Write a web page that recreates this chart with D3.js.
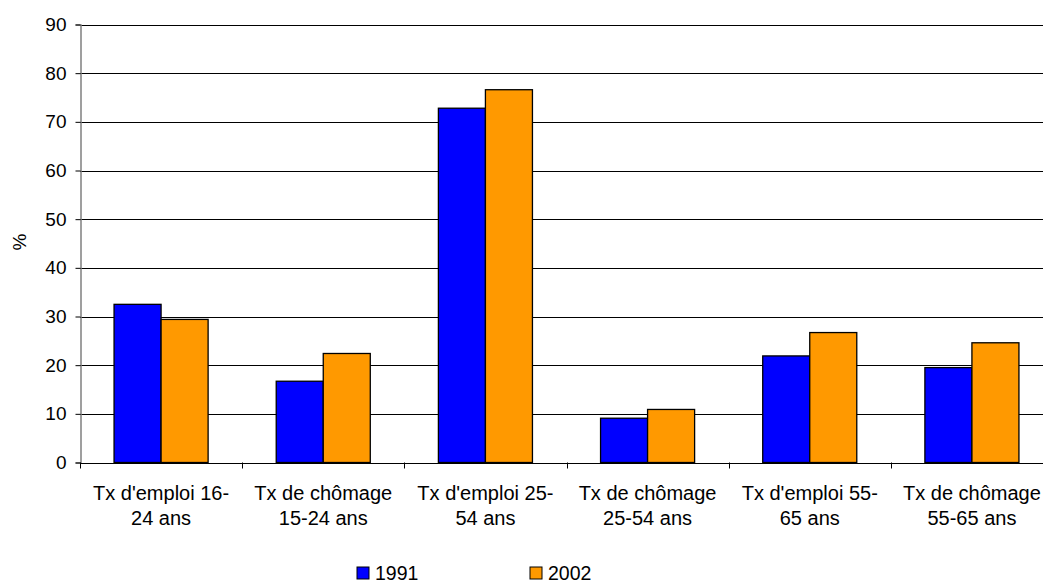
<!DOCTYPE html>
<html>
<head>
<meta charset="utf-8">
<title>Taux d'emploi et de chômage</title>
<script src="https://cdnjs.cloudflare.com/ajax/libs/d3/7.8.5/d3.min.js"></script>
<style>
  body { margin: 0; background: #fff; }
  text { font-family: "Liberation Sans", Arial, sans-serif; fill: #000; }
</style>
</head>
<body>
<div id="chart"></div>
<script>
// data
var categories = [
  ["Tx d'emploi 16-", "24 ans"],
  ["Tx de chômage", "15-24 ans"],
  ["Tx d'emploi 25-", "54 ans"],
  ["Tx de chômage", "25-54 ans"],
  ["Tx d'emploi 55-", "65 ans"],
  ["Tx de chômage", "55-65 ans"]
];
var series = ["1991", "2002"];
var values1991 = [32.5, 16.7, 72.8, 9.1, 21.9, 19.5];
var values2002 = [29.4, 22.4, 76.6, 10.9, 26.7, 24.6];
var yTicks = [0, 10, 20, 30, 40, 50, 60, 70, 80, 90];
var colors = ["#0000ff", "#ff9900"];

var width = 1043, height = 582;
var plotLeft = 80, plotRight = 1053, plotTop = 24.5, plotBottom = 462.5;

var svg = d3.select("#chart").append("svg")
  .attr("width", width)
  .attr("height", height);

var x0 = d3.scaleBand()
  .domain(d3.range(categories.length))
  .range([plotLeft, plotRight])
  .paddingInner(0.42)
  .paddingOuter(0.21);

var x1 = d3.scaleBand()
  .domain(series)
  .range([0, x0.bandwidth()]);

var y = d3.scaleLinear()
  .domain([0, 90])
  .range([plotBottom, plotTop]);

// category tick spacing
var step = (plotRight - plotLeft) / categories.length;

// gridlines
svg.append("g").selectAll("line")
  .data(yTicks.filter(function(d) { return d > 0; }))
  .enter().append("line")
  .attr("x1", plotLeft).attr("x2", plotRight)
  .attr("y1", function(d) { return Math.round(y(d)) + 0.5; })
  .attr("y2", function(d) { return Math.round(y(d)) + 0.5; })
  .attr("stroke", "#000")
  .attr("stroke-width", 1);

// bars
var rows = categories.map(function(c, i) {
  return [ {s: "1991", v: values1991[i]}, {s: "2002", v: values2002[i]} ];
});

var groups = svg.append("g").selectAll("g")
  .data(rows)
  .enter().append("g")
  .attr("transform", function(d, i) { return "translate(" + x0(i) + ",0)"; });

groups.selectAll("rect")
  .data(function(d) { return d; })
  .enter().append("rect")
  .attr("x", function(d) { return x1(d.s); })
  .attr("y", function(d) { return y(d.v); })
  .attr("width", x1.bandwidth())
  .attr("height", function(d) { return y(0) - y(d.v); })
  .attr("fill", function(d, i) { return colors[i]; })
  .attr("stroke", "#000")
  .attr("stroke-width", 1.3);

// y axis
var yAxis = d3.axisLeft(y)
  .tickValues(yTicks)
  .tickSize(5)
  .tickPadding(9);

var gy = svg.append("g")
  .attr("transform", "translate(" + (plotLeft + 0.5) + ",0)")
  .call(yAxis);
gy.select(".domain").attr("stroke", "#808080").attr("stroke-width", 1.5);
gy.selectAll(".tick line").attr("stroke", "#000");
gy.selectAll(".tick text")
  .style("font-size", "19px")
  .style("font-family", "Liberation Sans, Arial, sans-serif");

// x axis line and ticks
svg.append("line")
  .attr("x1", plotLeft).attr("x2", plotRight)
  .attr("y1", Math.round(plotBottom) + 0.5).attr("y2", Math.round(plotBottom) + 0.5)
  .attr("stroke", "#000");

svg.append("g").selectAll("line")
  .data(d3.range(categories.length + 1))
  .enter().append("line")
  .attr("x1", function(i) { return Math.round(plotLeft + i * step) + 0.5; })
  .attr("x2", function(i) { return Math.round(plotLeft + i * step) + 0.5; })
  .attr("y1", plotBottom)
  .attr("y2", plotBottom + 6)
  .attr("stroke", "#000");

// x labels
var labels = svg.append("g").selectAll("text")
  .data(categories)
  .enter().append("text")
  .attr("text-anchor", "middle")
  .attr("x", function(d, i) { return x0(i) + x0.bandwidth() / 2; })
  .attr("y", 500)
  .style("font-size", "20px");

labels.append("tspan")
  .attr("x", function(d, i) { return x0(i) + x0.bandwidth() / 2; })
  .text(function(d) { return d[0]; });
labels.append("tspan")
  .attr("x", function(d, i) { return x0(i) + x0.bandwidth() / 2; })
  .attr("dy", 24.5)
  .text(function(d) { return d[1]; });

// y axis title
svg.append("text")
  .attr("transform", "translate(26,242) rotate(-90)")
  .attr("text-anchor", "middle")
  .style("font-size", "19px")
  .text("%");

// legend
var legendX = [357, 530];
var legend = svg.append("g").selectAll("g")
  .data(series)
  .enter().append("g")
  .attr("transform", function(d, i) { return "translate(" + legendX[i] + ",567)"; });

legend.append("rect")
  .attr("width", 12).attr("height", 12)
  .attr("fill", function(d, i) { return colors[i]; })
  .attr("stroke", "#000")
  .attr("stroke-width", 1);

legend.append("text")
  .attr("x", 18)
  .attr("y", 13)
  .style("font-size", "19.5px")
  .text(function(d) { return d; });
</script>
</body>
</html>
